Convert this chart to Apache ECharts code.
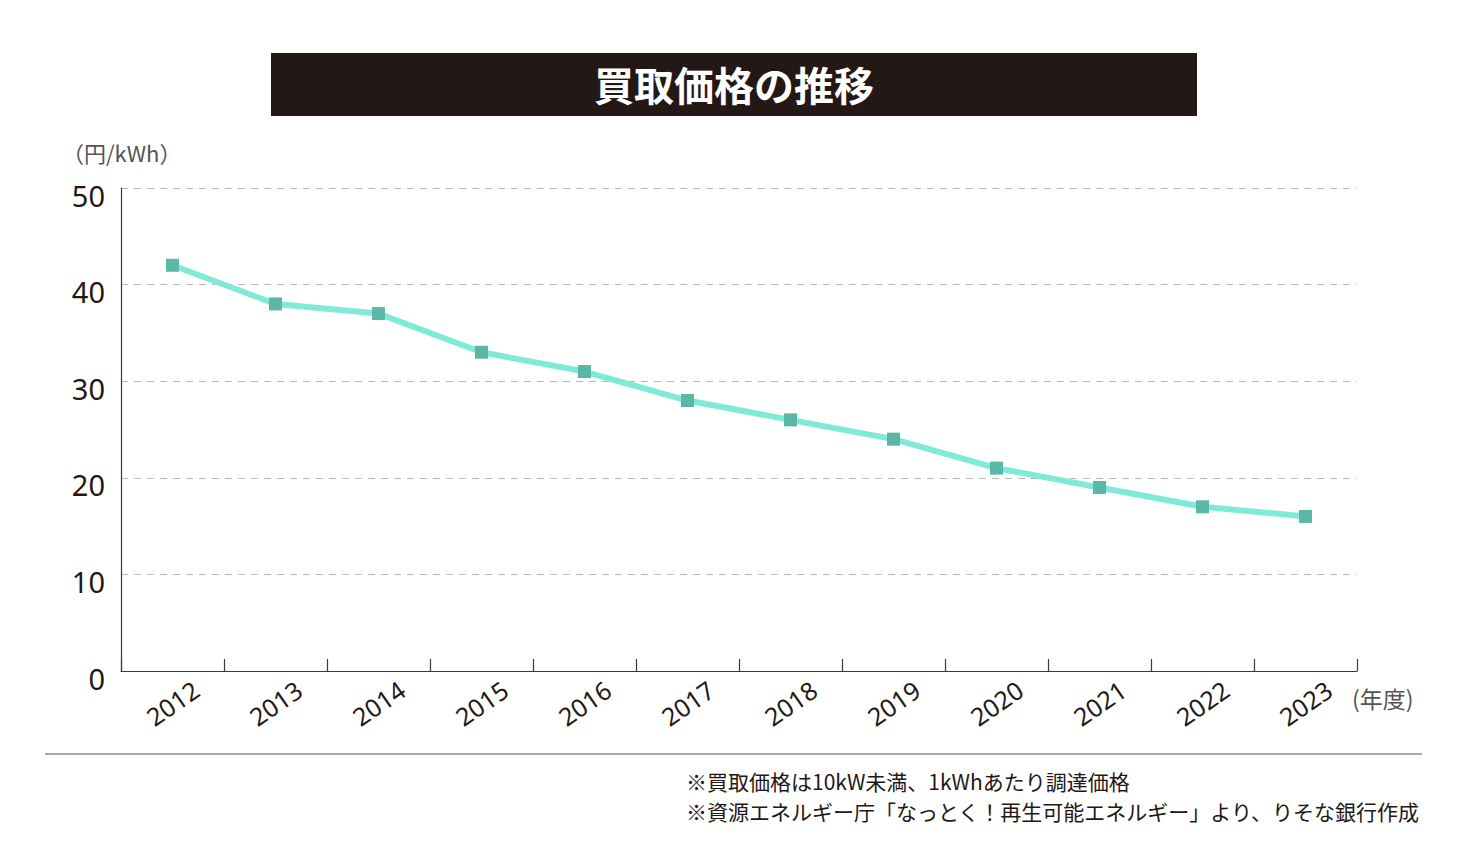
<!DOCTYPE html>
<html>
<head>
<meta charset="utf-8">
<script src="https://cdn.jsdelivr.net/npm/echarts@6/dist/echarts.min.js"></script>
<style>
html,body{margin:0;padding:0;background:#fff;}
#main{width:1468px;height:860px;}
</style>
</head>
<body>
<div id="main"></div>
<script>
const titleText = '買取価格の推移';
const unitLabel = '（円/kWh）';
const xUnitLabel = '(年度)';
const years = ['2012','2013','2014','2015','2016','2017','2018','2019','2020','2021','2022','2023'];
const prices = [42, 38, 37, 33, 31, 28, 26, 24, 21, 19, 17, 16];
const yTicks = [0, 10, 20, 30, 40, 50];
const notes = [
  '※買取価格は10kW未満、1kWhあたり調達価格',
  '※資源エネルギー庁「なっとく！再生可能エネルギー」より、りそな銀行作成'
];

const cjk = '"Noto Sans CJK JP", "Noto Sans", sans-serif';
const latin = '"Noto Sans", "Open Sans", sans-serif';

const chart = echarts.init(document.getElementById('main'), null, {renderer: 'svg'});
chart.setOption({
  backgroundColor: '#ffffff',
  animation: false,
  grid: {left: 121, right: 111, top: 188, bottom: 189, containLabel: false},
  xAxis: {
    type: 'category',
    data: years,
    boundaryGap: true,
    axisLine: {lineStyle: {color: '#3a3a3a', width: 1.2}},
    axisTick: {show: true, inside: true, length: 12, alignWithLabel: false, lineStyle: {color: '#3a3a3a', width: 1.2}},
    axisLabel: {
      rotate: 35, align: 'center', verticalAlign: 'middle', margin: 32,
      fontSize: 25, color: '#231815', fontFamily: latin
    },
    splitLine: {show: false}
  },
  yAxis: {
    type: 'value',
    min: yTicks[0], max: yTicks[yTicks.length - 1], interval: 10,
    axisLine: {show: true, lineStyle: {color: '#3a3a3a', width: 1.2}},
    axisTick: {show: false},
    axisLabel: {fontSize: 29, color: '#231815', fontFamily: latin, margin: 16, verticalAlign: 'top', lineHeight: 14},
    splitLine: {show: true, lineStyle: {color: '#b8b8b8', type: [7, 6], width: 1}}
  },
  series: [{
    type: 'line',
    data: prices,
    symbol: 'rect',
    symbolSize: 13,
    lineStyle: {color: '#80ead8', width: 6},
    itemStyle: {color: '#5bb8a8'},
    z: 3
  }],
  graphic: [
    {type: 'rect', shape: {x: 271, y: 53, width: 926, height: 63}, style: {fill: '#231815'}},
    {type: 'text', x: 734, y: 84, style: {text: titleText, fill: '#ffffff', font: 'bold 40px ' + cjk, textAlign: 'center', textVerticalAlign: 'middle'}},
    {type: 'text', x: 62, y: 152, style: {text: unitLabel, fill: '#555555', font: '22px ' + cjk, textAlign: 'left', textVerticalAlign: 'middle'}},
    {type: 'text', x: 1352, y: 698, style: {text: xUnitLabel, fill: '#555555', font: '23px ' + cjk, textAlign: 'left', textVerticalAlign: 'middle'}},
    {type: 'line', shape: {x1: 45, y1: 754, x2: 1422, y2: 754}, style: {stroke: '#555555', lineWidth: 1}},
    {type: 'text', x: 686, y: 781, style: {text: notes[0], fill: '#231815', font: '21px ' + cjk, textAlign: 'left', textVerticalAlign: 'middle'}},
    {type: 'text', x: 686, y: 811, style: {text: notes[1], fill: '#231815', font: '21px ' + cjk, textAlign: 'left', textVerticalAlign: 'middle'}}
  ]
});
</script>
</body>
</html>
